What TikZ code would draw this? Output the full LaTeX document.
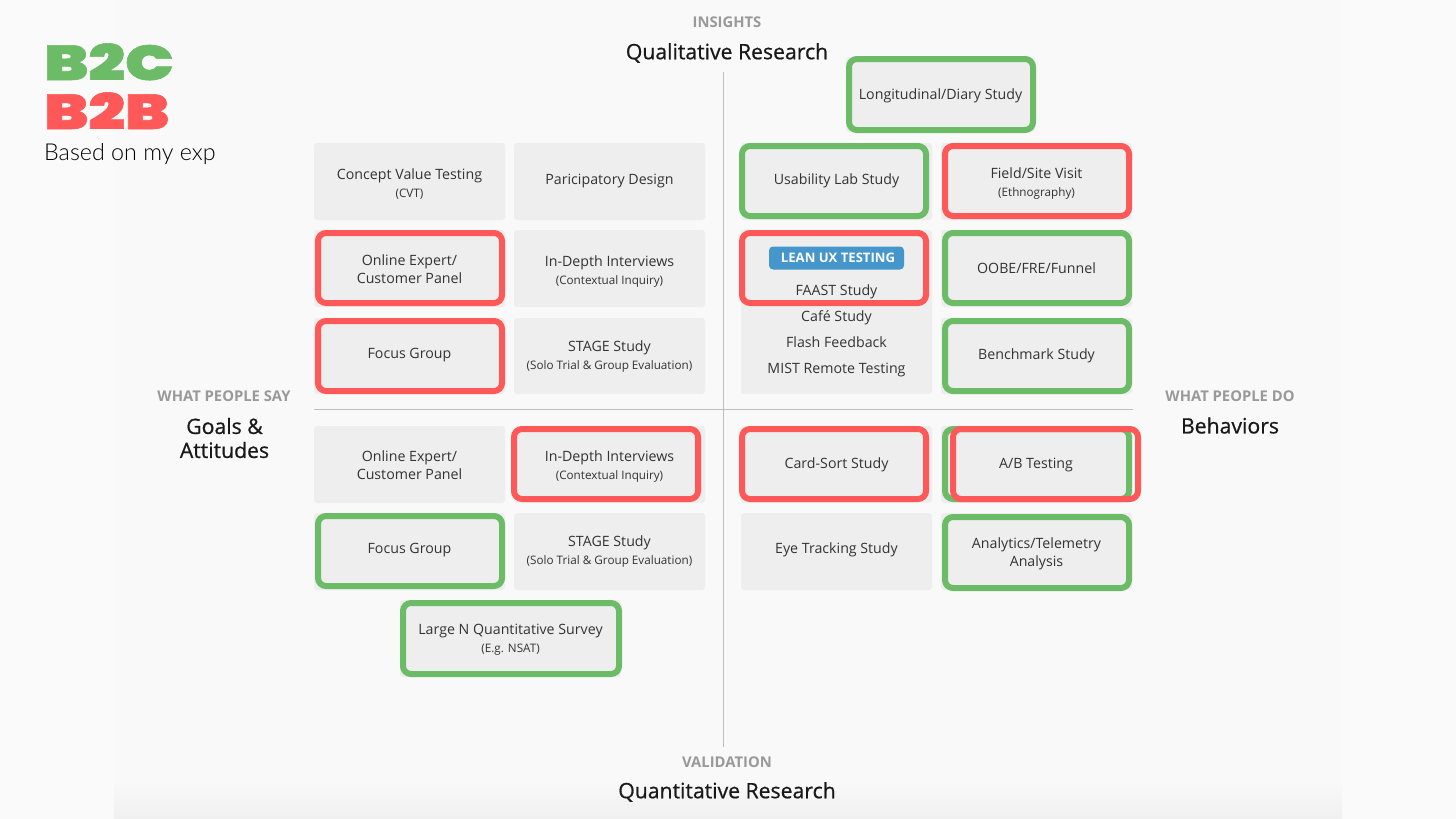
\documentclass[tikz,border=0pt]{standalone}
\usepackage{fontspec}
\setmainfont{Open Sans}
\newfontfamily\logofont[FakeStretch=1.32,FakeBold=1.2]{Poppins Black}
\newfontfamily\notefont{Lato Light}
\newfontfamily\headfont[FakeBold=0.7]{Open Sans}
\usetikzlibrary{calc}
\definecolor{pagebg}{HTML}{F9F9F9}
\definecolor{outerbg}{HTML}{FAFAFA}
\definecolor{cardbg}{HTML}{EEEEEE}
\definecolor{gr}{HTML}{6CBB66}
\definecolor{rd}{HTML}{FF5858}
\definecolor{axisc}{HTML}{BDBDBD}
\definecolor{capc}{HTML}{999999}
\definecolor{txt}{HTML}{333333}
\definecolor{badge}{HTML}{4496CB}
\newcommand{\cardtext}{\fontsize{14.2}{18}\selectfont}
\newcommand{\subtext}{\fontsize{11.7}{20}\selectfont}
\tikzset{
  x=1pt,y=-1pt,
  cardbox/.style={fill=cardbg,draw=none,rounded corners=3pt,inner sep=0pt},
  cardlab/.style={inner sep=0pt,text=txt,align=center,font=\cardtext},
  outl/.style={draw=#1,line width=6pt,rounded corners=8pt,fill=none,inner sep=0pt},
  capt/.style={text=capc,font=\fontsize{14.800}{16}\selectfont\bfseries,inner sep=0pt},
  head/.style={text=black!90,font=\headfont\fontsize{21.200}{25}\selectfont,inner sep=0pt,align=center},
  logo/.style={font=\logofont\fontsize{49}{49}\selectfont,inner sep=0pt,anchor=base west,text height=36pt,text depth=0pt}
}
% [text drop], name, x1,y1,x2,y2, text
\newcommand{\card}[6][0]{\node[cardbox,minimum width=#5pt-#3pt,minimum height=#6pt-#4pt] (#2) at ({(#3+#5)/2},{(#4+#6)/2}) {};\cardlabel{#1}{#2}}
\newcommand{\cardlabel}[3]{\node[cardlab] (#2t) at ($(#2.center)+(0,#1)$) {#3};}
% name, x1,y1,x2,y2, colour
\newcommand{\ring}[6]{\node[outl=#6,minimum width=#4pt-#2pt-6pt,minimum height=#5pt-#3pt-6pt] (#1) at ({(#2+#4)/2},{(#3+#5)/2}) {};}
\begin{document}
\begin{tikzpicture}
\useasboundingbox (0,0) rectangle (1456,819);
\fill[outerbg] (0,0) rectangle (1456,819);
\fill[pagebg] (114,0) rectangle (1342,819);
\shade[top color=pagebg,bottom color=cardbg!90!white] (114,780) rectangle (1342,819);

\node[logo,text=gr] (lc) at (44,80) {B2C};
\node[logo,text=rd] (lb) at (44,129) {B2B};
\node[anchor=base west,inner sep=0pt,font=\notefont\fontsize{23.300}{26}\selectfont,text=black] (note) at (44,160) {Based on my exp};

\coordinate (vt) at (723,72);
\coordinate (vb) at (723,747);
\coordinate (hl) at (314,409);
\coordinate (hr) at (1133,409);
\draw[axisc,line width=1pt] (vt) -- (vb);
\draw[axisc,line width=1pt] (hl) -- (hr);

\node[capt] (ci) at (727,22) {INSIGHTS};
\node[head] (hq) at (727,53) {Qualitative Research};
\node[capt] (cv) at (727,762) {VALIDATION};
\node[head] (hn) at (727,792) {Quantitative Research};
\node[capt] (cs) at (224,396) {WHAT PEOPLE SAY};
\node[head] (hg) at (224.500,438) {Goals \&\\[-1pt]Attitudes};
\node[capt] (cd) at (1230,396) {WHAT PEOPLE DO};
\node[head] (hb) at (1230,425.500) {Behaviors};

\card[2.5]{a1}{314}{143}{505}{220}{Concept Value Testing\\[0pt]{\subtext (CVT)}}
\card[-1]{a2}{514}{143}{705}{220}{Paricipatory Design}
\card[-1]{a3}{741}{143}{932}{220}{Usability Lab Study}
\card[2.5]{a4}{941}{143}{1132}{220}{Field/Site Visit\\[0pt]{\subtext (Ethnography)}}
\card[1]{b1}{314}{230}{505}{307}{Online Expert/\\[0pt]Customer Panel}
\card[3]{b2}{514}{230}{705}{307}{In-Depth Interviews\\[0pt]{\subtext (Contextual Inquiry)}}
\card{b3}{741}{230}{932}{394}{}
\card{b4}{941}{230}{1132}{307}{OOBE/FRE/Funnel}
\card[-1]{c1}{314}{318}{505}{394}{Focus Group}
\card[0.5]{c2}{514}{318}{705}{394}{STAGE Study\\[0pt]{\subtext (Solo Trial \& Group Evaluation)}}
\card{c4}{941}{318}{1132}{394}{Benchmark Study}
\card[1]{d1}{314}{426}{505}{503}{Online Expert/\\[0pt]Customer Panel}
\card[2]{d2}{514}{426}{705}{503}{In-Depth Interviews\\[0pt]{\subtext (Contextual Inquiry)}}
\card{d3}{741}{426}{932}{503}{Card-Sort Study}
\card{d4}{941}{426}{1132}{503}{}
\card[-1.5]{e1}{314}{513}{505}{590}{Focus Group}
\card{e2}{514}{513}{705}{590}{STAGE Study\\[0pt]{\subtext (Solo Trial \& Group Evaluation)}}
\card[-2]{e3}{741}{513}{932}{590}{Eye Tracking Study}
\card[2]{e4}{941}{513}{1132}{590}{Analytics/Telemetry\\[0pt]Analysis}
\card[1]{f1}{400}{600}{621}{677}{Large N Quantitative Survey\\[0pt]{\subtext (E.g. NSAT)}}
\card[1]{g1}{846}{57}{1035}{132}{Longitudinal/Diary Study}

\node[fill=badge,rounded corners=4pt,minimum width=135pt,minimum height=23pt,inner sep=0pt,text=white,font=\fontsize{13.100}{15}\selectfont\bfseries] (lean) at (836.500,258) {\hspace{3pt}LEAN UX TESTING};
\node[inner sep=0pt,text=txt,font=\cardtext,anchor=base] (t1) at (836.500,295.500) {FAAST Study};
\node[inner sep=0pt,text=txt,font=\cardtext,anchor=base] (t2) at (836.500,321.700) {Café Study};
\node[inner sep=0pt,text=txt,font=\cardtext,anchor=base] (t3) at (836.500,347) {Flash Feedback};
\node[inner sep=0pt,text=txt,font=\cardtext,anchor=base] (t4) at (836.500,373) {MIST Remote Testing};
\node[inner sep=0pt,text=txt,font=\cardtext,anchor=base] (t5) at (1036,468) {A/B Testing};

\ring{ra3}{739}{143}{929}{219}{gr}
\ring{ra4}{942}{143}{1132}{219}{rd}
\ring{rb1}{315}{230}{505}{306}{rd}
\ring{rb3}{739}{230}{929}{306}{rd}
\ring{rb4}{942}{230}{1132}{306}{gr}
\ring{rc1}{315}{318}{505}{394}{rd}
\ring{rc4}{942}{318}{1132}{394}{gr}
\ring{rd2}{511}{426}{701}{502}{rd}
\ring{rd3}{739}{426}{929}{502}{rd}
\ring{rd4g}{942}{426}{1132}{502}{gr}
\ring{rd4r}{950}{426}{1141}{502}{rd}
\ring{re1}{315}{513}{505}{589}{gr}
\ring{re4}{942}{514}{1132}{591}{gr}
\ring{rf1}{400}{600}{622}{677}{gr}
\ring{rg1}{846}{56}{1036}{133}{gr}
\end{tikzpicture}
\end{document}
